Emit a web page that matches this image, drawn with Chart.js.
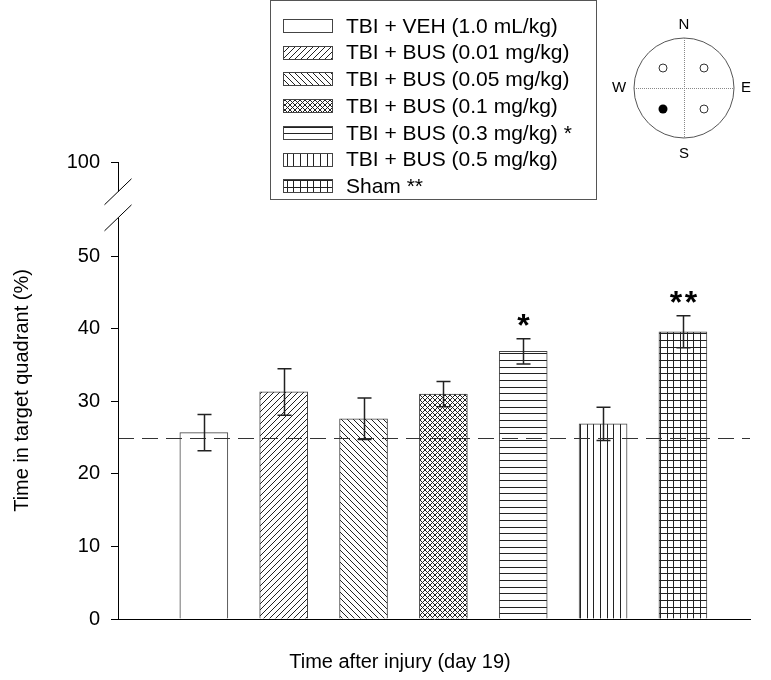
<!DOCTYPE html>
<html>
<head>
<meta charset="utf-8">
<script src="https://cdn.jsdelivr.net/npm/chart.js@4"></script>
<style>
html, body { margin: 0; padding: 0; background: #fff; }
</style>
</head>
<body>
<canvas id="chart" width="771" height="680"></canvas>
<script>
// Groups, means and SEM (time in target quadrant, day 19)
const groups = [
  'TBI + VEH (1.0 mL/kg)',
  'TBI + BUS (0.01 mg/kg)',
  'TBI + BUS (0.05 mg/kg)',
  'TBI + BUS (0.1 mg/kg)',
  'TBI + BUS (0.3 mg/kg)',
  'TBI + BUS (0.5 mg/kg)',
  'Sham'
];
const marks = ['', '', '', '', '*', '', '**'];
const means = [25.7, 31.3, 27.6, 31.0, 36.9, 26.9, 39.6];
const sem = [2.5, 3.2, 2.85, 1.75, 1.75, 2.3, 2.2];
const fills = ['none', 'fwd', 'back', 'cross', 'h', 'v', 'grid'];
const chanceLevel = 25;
const yTicks = [0, 10, 20, 30, 40, 50];
const yTopValue = 63;     // where the "100" tick sits, above the axis break
const yTopLabel = '100';
const yBreak = [55.3, 58.9];
const compassDirs = ['N', 'E', 'S', 'W'];

const FONT = "'Liberation Sans', Arial, sans-serif";
Chart.defaults.font.family = FONT;
Chart.defaults.color = '#000';

function makePattern(kind) {
  const s = (kind === 'h' || kind === 'v' || kind === 'grid') ? 20 : (kind === 'cross' ? 5 : 6);
  const c = document.createElement('canvas');
  c.width = s; c.height = s;
  const g = c.getContext('2d');
  g.fillStyle = '#fff';
  g.fillRect(0, 0, s, s);
  if (kind === 'none') return '#fff';
  g.strokeStyle = '#222';
  g.lineWidth = 1;
  g.beginPath();
  if (kind === 'fwd' || kind === 'cross') {
    for (let k = -1; k <= 1; k++) { g.moveTo(k * s, s); g.lineTo(k * s + s, 0); }
  }
  if (kind === 'back' || kind === 'cross') {
    for (let k = -1; k <= 1; k++) { g.moveTo(k * s, 0); g.lineTo(k * s + s, s); }
  }
  if (kind === 'h' || kind === 'grid') {
    [0.5, 7.5, 13.5].forEach(y => { g.moveTo(0, y); g.lineTo(s, y); });
  }
  if (kind === 'v' || kind === 'grid') {
    [0.5, 7.5, 13.5].forEach(x => { g.moveTo(x, 0); g.lineTo(x, s); });
  }
  g.stroke();
  return g.createPattern(c, 'repeat');
}
const patterns = fills.map(makePattern);

const extras = {
  id: 'extras',
  afterDatasetsDraw(chart) {
    const ctx = chart.ctx;
    const xs = chart.scales.x, ys = chart.scales.y;
    const area = chart.chartArea;
    ctx.save();
    // chance level line
    ctx.strokeStyle = '#333';
    ctx.lineWidth = 1;
    ctx.setLineDash([16, 8]);
    const yc = Math.round(ys.getPixelForValue(chanceLevel)) + 0.5;
    ctx.beginPath(); ctx.moveTo(area.left, yc); ctx.lineTo(area.right, yc); ctx.stroke();
    ctx.setLineDash([]);

    // error bars + significance marks
    ctx.strokeStyle = '#222';
    ctx.lineWidth = 1.5;
    means.forEach((m, i) => {
      const x = Math.round(xs.getPixelForValue(i + 1)) + 0.5;
      const yt = ys.getPixelForValue(m + sem[i]);
      const yb = ys.getPixelForValue(m - sem[i]);
      ctx.beginPath();
      ctx.moveTo(x, yt); ctx.lineTo(x, yb);
      ctx.moveTo(x - 7, yt); ctx.lineTo(x + 7, yt);
      ctx.moveTo(x - 7, yb); ctx.lineTo(x + 7, yb);
      ctx.stroke();
      if (marks[i]) {
        ctx.fillStyle = '#000';
        ctx.font = 'bold 32px ' + FONT;
        ctx.textAlign = 'center';
        ctx.textBaseline = 'alphabetic';
        ctx.fillText(marks[i].split('').join('\u200A'), x, yt - 3);
      }
    });

    // y axis line with break
    const ax = area.left + 0.5;
    const yBreakLo = ys.getPixelForValue(yBreak[0]);
    const yBreakHi = ys.getPixelForValue(yBreak[1]);
    ctx.strokeStyle = '#000';
    ctx.lineWidth = 1;
    ctx.beginPath();
    ctx.moveTo(ax, area.top); ctx.lineTo(ax, yBreakHi);
    ctx.moveTo(ax, yBreakLo); ctx.lineTo(ax, area.bottom);
    [yBreakHi, yBreakLo].forEach(y => { ctx.moveTo(ax - 14, y + 13); ctx.lineTo(ax + 13, y - 13); });
    ctx.stroke();
    ctx.restore();
  },
  afterDraw(chart) {
    const ctx = chart.ctx;
    ctx.save();
    // legend box
    ctx.strokeStyle = '#555';
    ctx.lineWidth = 1;
    ctx.strokeRect(270.5, 0.5, 326, 199);
    ctx.font = '21px ' + FONT;
    ctx.textAlign = 'left';
    ctx.textBaseline = 'middle';
    groups.forEach((g, i) => {
      const y = 26 + i * 26.7;
      ctx.fillStyle = patterns[i];
      ctx.fillRect(283, Math.round(y - 7), 50, 14);
      ctx.strokeStyle = '#444';
      ctx.strokeRect(283.5, Math.round(y - 7) + 0.5, 49, 13);
      ctx.fillStyle = '#000';
      ctx.fillText(g + (marks[i] ? ' ' + marks[i] : ''), 346, y + 1);
    });

    // water maze inset
    const cx = 684, cy = 88, r = 50;
    ctx.strokeStyle = '#555';
    ctx.beginPath(); ctx.arc(cx, cy, r, 0, Math.PI * 2); ctx.stroke();
    ctx.strokeStyle = '#888';
    ctx.setLineDash([1, 1]);
    ctx.beginPath();
    ctx.moveTo(cx - r, cy + 0.5); ctx.lineTo(cx + r, cy + 0.5);
    ctx.moveTo(cx + 0.5, cy - r); ctx.lineTo(cx + 0.5, cy + r);
    ctx.stroke();
    ctx.setLineDash([]);
    ctx.strokeStyle = '#333';
    [[-21, -20, false], [20, -20, false], [20, 21, false], [-21, 21, true]].forEach(([dx, dy, filled]) => {
      ctx.beginPath(); ctx.arc(cx + dx, cy + dy, filled ? 4.5 : 4, 0, Math.PI * 2);
      if (filled) { ctx.fillStyle = '#000'; ctx.fill(); } else ctx.stroke();
    });
    ctx.fillStyle = '#000';
    ctx.font = '15px ' + FONT;
    ctx.textAlign = 'center';
    ctx.textBaseline = 'middle';
    const lpos = { N: [0, -63], E: [62, 0], S: [0, 66], W: [-65, 0] };
    compassDirs.forEach(d => ctx.fillText(d, cx + lpos[d][0], cy + lpos[d][1]));

    // x axis title
    ctx.font = '20px ' + FONT;
    ctx.fillText('Time after injury (day 19)', 400, 662);
    ctx.restore();
  }
};

new Chart(document.getElementById('chart'), {
  type: 'bar',
  data: {
    datasets: [{
      data: means.map((m, i) => ({ x: i + 1, y: m })),
      backgroundColor: patterns,
      borderColor: '#444',
      borderWidth: 1,
      barThickness: 48
    }]
  },
  options: {
    responsive: false,
    animation: false,
    layout: { padding: { left: 0, right: 21, top: 162, bottom: 0 } },
    plugins: { legend: { display: false }, tooltip: { enabled: false } },
    scales: {
      x: {
        type: 'linear',
        offset: false,
        min: -0.075,
        max: 7.84,
        ticks: { display: false },
        grid: { display: false, offset: false },
        border: { display: true, color: '#000', width: 1 },
        afterFit(scale) { scale.height = 61; }
      },
      y: {
        min: 0,
        max: yTopValue,
        afterBuildTicks(scale) {
          scale.ticks = yTicks.concat([yTopValue]).map(v => ({ value: v }));
        },
        ticks: {
          font: { size: 20 },
          padding: 11,
          callback: v => (v === yTopValue ? yTopLabel : v)
        },
        grid: { drawOnChartArea: false, drawTicks: true, tickLength: 7, color: '#000' },
        border: { display: false },
        title: {
          display: true,
          text: 'Time in target quadrant (%)',
          font: { size: 20 },
          padding: { top: 10, bottom: 0 }
        },
        afterFit(scale) { scale.width = 118; }
      }
    }
  },
  plugins: [extras]
});
</script>
</body>
</html>
